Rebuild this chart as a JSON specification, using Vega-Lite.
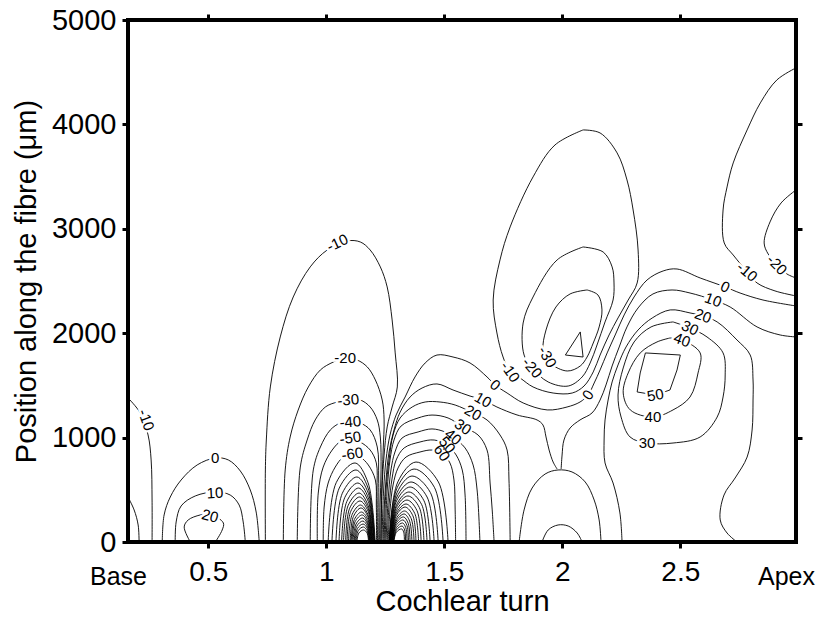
{
"$schema":"https://vega.github.io/schema/vega-lite/v6.json",
"width":668,"height":522,
"autosize":{"type":"none"},
"padding":{"left":128,"top":20,"right":21,"bottom":76},
"background":"white",
"config":{"view":{"stroke":"black","strokeWidth":4},
"axis":{"domain":false,"grid":false,"tickColor":"black","tickWidth":3,"tickSize":6,"labelFont":"Liberation Sans","labelFontSize":29,"labelColor":"black","titleFont":"Liberation Sans","titleFontSize":29,"titleFontWeight":"normal","titleColor":"black","labelFlush":false,"labelOverlap":false,"labelBound":false}},
"datasets":{
"lines":[
{"c":"l10","o":1,"x":0.16,"y":1380},{"c":"l10","o":2,"x":0.212,"y":1236},{"c":"l10","o":3,"x":0.245,"y":1025},{"c":"l10","o":4,"x":0.258,"y":786},{"c":"l10","o":5,"x":0.262,"y":402},{"c":"l10","o":6,"x":0.262,"y":0},
{"c":"l2","o":1,"x":0.16,"y":431},{"c":"l2","o":2,"x":0.186,"y":307},{"c":"l2","o":3,"x":0.203,"y":163},{"c":"l2","o":4,"x":0.207,"y":0},
{"c":"d0","o":1,"x":0.305,"y":0},{"c":"d0","o":2,"x":0.313,"y":259},{"c":"d0","o":3,"x":0.339,"y":431},{"c":"d0","o":4,"x":0.385,"y":594},{"c":"d0","o":5,"x":0.453,"y":738},{"c":"d0","o":6,"x":0.53,"y":805},{"c":"d0","o":7,"x":0.585,"y":786},{"c":"d0","o":8,"x":0.636,"y":680},{"c":"d0","o":9,"x":0.678,"y":498},{"c":"d0","o":10,"x":0.703,"y":287},{"c":"d0","o":11,"x":0.716,"y":0},
{"c":"d10","o":1,"x":0.36,"y":0},{"c":"d10","o":2,"x":0.364,"y":192},{"c":"d10","o":3,"x":0.385,"y":345},{"c":"d10","o":4,"x":0.445,"y":441},{"c":"d10","o":5,"x":0.53,"y":479},{"c":"d10","o":6,"x":0.593,"y":450},{"c":"d10","o":7,"x":0.631,"y":354},{"c":"d10","o":8,"x":0.648,"y":192},{"c":"d10","o":9,"x":0.657,"y":0},
{"c":"d20","o":1,"x":0.424,"y":0},{"c":"d20","o":2,"x":0.398,"y":144},{"c":"d20","o":3,"x":0.415,"y":211},{"c":"d20","o":4,"x":0.466,"y":259},{"c":"d20","o":5,"x":0.508,"y":268},{"c":"d20","o":6,"x":0.564,"y":182},{"c":"d20","o":7,"x":0.559,"y":115},{"c":"d20","o":8,"x":0.53,"y":0},
{"c":"a10","o":1,"x":0.742,"y":0},{"c":"a10","o":2,"x":0.742,"y":690},{"c":"a10","o":3,"x":0.746,"y":977},{"c":"a10","o":4,"x":0.763,"y":1485},{"c":"a10","o":5,"x":0.805,"y":1964},{"c":"a10","o":6,"x":0.86,"y":2347},{"c":"a10","o":7,"x":0.932,"y":2635},{"c":"a10","o":8,"x":1.004,"y":2797},{"c":"a10","o":9,"x":1.089,"y":2884},{"c":"a10","o":10,"x":1.144,"y":2874},{"c":"a10","o":11,"x":1.186,"y":2797},{"c":"a10","o":12,"x":1.229,"y":2635},{"c":"a10","o":13,"x":1.258,"y":2443},{"c":"a10","o":14,"x":1.279,"y":2127},{"c":"a10","o":15,"x":1.292,"y":1811},{"c":"a10","o":16,"x":1.301,"y":1485},{"c":"a10","o":17,"x":1.279,"y":1293},{"c":"a10","o":18,"x":1.258,"y":1102},{"c":"a10","o":19,"x":1.245,"y":833},{"c":"a10","o":20,"x":1.236,"y":498},{"c":"a10","o":21,"x":1.232,"y":0},
{"c":"a20","o":1,"x":0.818,"y":0},{"c":"a20","o":2,"x":0.826,"y":690},{"c":"a20","o":3,"x":0.847,"y":1006},{"c":"a20","o":4,"x":0.881,"y":1264},{"c":"a20","o":5,"x":0.924,"y":1485},{"c":"a20","o":6,"x":0.975,"y":1648},{"c":"a20","o":7,"x":1.03,"y":1724},{"c":"a20","o":8,"x":1.08,"y":1763},{"c":"a20","o":9,"x":1.131,"y":1743},{"c":"a20","o":10,"x":1.174,"y":1676},{"c":"a20","o":11,"x":1.208,"y":1552},{"c":"a20","o":12,"x":1.237,"y":1360},{"c":"a20","o":13,"x":1.245,"y":1169},{"c":"a20","o":14,"x":1.241,"y":881},{"c":"a20","o":15,"x":1.235,"y":498},{"c":"a20","o":16,"x":1.231,"y":0},
{"c":"a30","o":1,"x":0.877,"y":0},{"c":"a30","o":2,"x":0.89,"y":718},{"c":"a30","o":3,"x":0.919,"y":977},{"c":"a30","o":4,"x":0.953,"y":1169},{"c":"a30","o":5,"x":0.996,"y":1293},{"c":"a30","o":6,"x":1.047,"y":1341},{"c":"a30","o":7,"x":1.093,"y":1360},{"c":"a30","o":8,"x":1.144,"y":1360},{"c":"a30","o":9,"x":1.186,"y":1293},{"c":"a30","o":10,"x":1.216,"y":1169},{"c":"a30","o":11,"x":1.229,"y":1006},{"c":"a30","o":12,"x":1.232,"y":690},{"c":"a30","o":13,"x":1.228,"y":354},{"c":"a30","o":14,"x":1.226,"y":0},
{"c":"a40","o":1,"x":0.932,"y":0},{"c":"a40","o":2,"x":0.945,"y":690},{"c":"a40","o":3,"x":0.975,"y":910},{"c":"a40","o":4,"x":1.017,"y":1073},{"c":"a40","o":5,"x":1.059,"y":1140},{"c":"a40","o":6,"x":1.102,"y":1159},{"c":"a40","o":7,"x":1.144,"y":1140},{"c":"a40","o":8,"x":1.186,"y":1073},{"c":"a40","o":9,"x":1.216,"y":910},{"c":"a40","o":10,"x":1.222,"y":594},{"c":"a40","o":11,"x":1.222,"y":0},
{"c":"a50","o":1,"x":0.962,"y":0},{"c":"a50","o":2,"x":0.966,"y":469},{"c":"a50","o":3,"x":0.987,"y":718},{"c":"a50","o":4,"x":1.025,"y":881},{"c":"a50","o":5,"x":1.067,"y":977},{"c":"a50","o":6,"x":1.102,"y":996},{"c":"a50","o":7,"x":1.144,"y":958},{"c":"a50","o":8,"x":1.186,"y":881},{"c":"a50","o":9,"x":1.212,"y":757},{"c":"a50","o":10,"x":1.215,"y":498},{"c":"a50","o":11,"x":1.217,"y":0},
{"c":"a60","o":1,"x":0.987,"y":0},{"c":"a60","o":2,"x":0.991,"y":335},{"c":"a60","o":3,"x":1.008,"y":565},{"c":"a60","o":4,"x":1.038,"y":718},{"c":"a60","o":5,"x":1.072,"y":814},{"c":"a60","o":6,"x":1.11,"y":843},{"c":"a60","o":7,"x":1.144,"y":814},{"c":"a60","o":8,"x":1.178,"y":738},{"c":"a60","o":9,"x":1.208,"y":594},{"c":"a60","o":10,"x":1.212,"y":354},{"c":"a60","o":11,"x":1.213,"y":0},
{"c":"n1","o":1,"x":1.008,"y":0},{"c":"n1","o":2,"x":1.042,"y":568},{"c":"n1","o":3,"x":1.122,"y":757},{"c":"n1","o":4,"x":1.177,"y":568},{"c":"n1","o":5,"x":1.207,"y":0},
{"c":"n2","o":1,"x":1.024,"y":0},{"c":"n2","o":2,"x":1.055,"y":517},{"c":"n2","o":3,"x":1.126,"y":690},{"c":"n2","o":4,"x":1.177,"y":517},{"c":"n2","o":5,"x":1.205,"y":0},
{"c":"n3","o":1,"x":1.041,"y":0},{"c":"n3","o":2,"x":1.068,"y":467},{"c":"n3","o":3,"x":1.13,"y":623},{"c":"n3","o":4,"x":1.178,"y":467},{"c":"n3","o":5,"x":1.203,"y":0},
{"c":"n4","o":1,"x":1.054,"y":0},{"c":"n4","o":2,"x":1.078,"y":424},{"c":"n4","o":3,"x":1.134,"y":565},{"c":"n4","o":4,"x":1.178,"y":424},{"c":"n4","o":5,"x":1.202,"y":0},
{"c":"n5","o":1,"x":1.065,"y":0},{"c":"n5","o":2,"x":1.087,"y":388},{"c":"n5","o":3,"x":1.137,"y":517},{"c":"n5","o":4,"x":1.178,"y":388},{"c":"n5","o":5,"x":1.2,"y":0},
{"c":"n6","o":1,"x":1.073,"y":0},{"c":"n6","o":2,"x":1.093,"y":352},{"c":"n6","o":3,"x":1.139,"y":469},{"c":"n6","o":4,"x":1.177,"y":352},{"c":"n6","o":5,"x":1.198,"y":0},
{"c":"n7","o":1,"x":1.082,"y":0},{"c":"n7","o":2,"x":1.099,"y":323},{"c":"n7","o":3,"x":1.141,"y":431},{"c":"n7","o":4,"x":1.177,"y":323},{"c":"n7","o":5,"x":1.196,"y":0},
{"c":"n8","o":1,"x":1.088,"y":0},{"c":"n8","o":2,"x":1.104,"y":295},{"c":"n8","o":3,"x":1.143,"y":393},{"c":"n8","o":4,"x":1.177,"y":295},{"c":"n8","o":5,"x":1.195,"y":0},
{"c":"n9","o":1,"x":1.094,"y":0},{"c":"n9","o":2,"x":1.11,"y":266},{"c":"n9","o":3,"x":1.145,"y":354},{"c":"n9","o":4,"x":1.176,"y":266},{"c":"n9","o":5,"x":1.193,"y":0},
{"c":"n10","o":1,"x":1.101,"y":0},{"c":"n10","o":2,"x":1.115,"y":244},{"c":"n10","o":3,"x":1.147,"y":326},{"c":"n10","o":4,"x":1.176,"y":244},{"c":"n10","o":5,"x":1.191,"y":0},
{"c":"n11","o":1,"x":1.105,"y":0},{"c":"n11","o":2,"x":1.119,"y":216},{"c":"n11","o":3,"x":1.149,"y":287},{"c":"n11","o":4,"x":1.176,"y":216},{"c":"n11","o":5,"x":1.19,"y":0},
{"c":"n12","o":1,"x":1.109,"y":0},{"c":"n12","o":2,"x":1.122,"y":194},{"c":"n12","o":3,"x":1.152,"y":259},{"c":"n12","o":4,"x":1.175,"y":194},{"c":"n12","o":5,"x":1.188,"y":0},
{"c":"n13","o":1,"x":1.113,"y":0},{"c":"n13","o":2,"x":1.126,"y":172},{"c":"n13","o":3,"x":1.154,"y":230},{"c":"n13","o":4,"x":1.175,"y":172},{"c":"n13","o":5,"x":1.186,"y":0},
{"c":"n14","o":1,"x":1.118,"y":0},{"c":"n14","o":2,"x":1.129,"y":151},{"c":"n14","o":3,"x":1.155,"y":201},{"c":"n14","o":4,"x":1.174,"y":151},{"c":"n14","o":5,"x":1.185,"y":0},
{"c":"n15","o":1,"x":1.122,"y":0},{"c":"n15","o":2,"x":1.132,"y":129},{"c":"n15","o":3,"x":1.156,"y":172},{"c":"n15","o":4,"x":1.174,"y":129},{"c":"n15","o":5,"x":1.183,"y":0},
{"c":"n16","o":1,"x":1.126,"y":0},{"c":"n16","o":2,"x":1.135,"y":108},{"c":"n16","o":3,"x":1.157,"y":144},{"c":"n16","o":4,"x":1.173,"y":108},{"c":"n16","o":5,"x":1.181,"y":0},
{"c":"n17","o":1,"x":1.13,"y":0},{"c":"n17","o":2,"x":1.138,"y":86},{"c":"n17","o":3,"x":1.158,"y":115},{"c":"n17","o":4,"x":1.173,"y":86},{"c":"n17","o":5,"x":1.179,"y":0},
{"c":"p1","o":1,"x":1.266,"y":0},{"c":"p1","o":2,"x":1.303,"y":575},{"c":"p1","o":3,"x":1.38,"y":766},{"c":"p1","o":4,"x":1.475,"y":575},{"c":"p1","o":5,"x":1.516,"y":0},
{"c":"p2","o":1,"x":1.267,"y":0},{"c":"p2","o":2,"x":1.301,"y":524},{"c":"p2","o":3,"x":1.372,"y":699},{"c":"p2","o":4,"x":1.458,"y":524},{"c":"p2","o":5,"x":1.495,"y":0},
{"c":"p3","o":1,"x":1.268,"y":0},{"c":"p3","o":2,"x":1.3,"y":474},{"c":"p3","o":3,"x":1.363,"y":632},{"c":"p3","o":4,"x":1.441,"y":474},{"c":"p3","o":5,"x":1.474,"y":0},
{"c":"p4","o":1,"x":1.27,"y":0},{"c":"p4","o":2,"x":1.299,"y":431},{"c":"p4","o":3,"x":1.359,"y":575},{"c":"p4","o":4,"x":1.427,"y":431},{"c":"p4","o":5,"x":1.457,"y":0},
{"c":"p5","o":1,"x":1.271,"y":0},{"c":"p5","o":2,"x":1.298,"y":395},{"c":"p5","o":3,"x":1.355,"y":527},{"c":"p5","o":4,"x":1.414,"y":395},{"c":"p5","o":5,"x":1.44,"y":0},
{"c":"p6","o":1,"x":1.272,"y":0},{"c":"p6","o":2,"x":1.298,"y":359},{"c":"p6","o":3,"x":1.35,"y":479},{"c":"p6","o":4,"x":1.404,"y":359},{"c":"p6","o":5,"x":1.427,"y":0},
{"c":"p7","o":1,"x":1.274,"y":0},{"c":"p7","o":2,"x":1.297,"y":331},{"c":"p7","o":3,"x":1.346,"y":441},{"c":"p7","o":4,"x":1.394,"y":331},{"c":"p7","o":5,"x":1.414,"y":0},
{"c":"p8","o":1,"x":1.275,"y":0},{"c":"p8","o":2,"x":1.297,"y":302},{"c":"p8","o":3,"x":1.342,"y":402},{"c":"p8","o":4,"x":1.384,"y":302},{"c":"p8","o":5,"x":1.402,"y":0},
{"c":"p9","o":1,"x":1.276,"y":0},{"c":"p9","o":2,"x":1.296,"y":273},{"c":"p9","o":3,"x":1.338,"y":364},{"c":"p9","o":4,"x":1.375,"y":273},{"c":"p9","o":5,"x":1.391,"y":0},
{"c":"p10","o":1,"x":1.277,"y":0},{"c":"p10","o":2,"x":1.296,"y":251},{"c":"p10","o":3,"x":1.334,"y":335},{"c":"p10","o":4,"x":1.367,"y":251},{"c":"p10","o":5,"x":1.38,"y":0},
{"c":"p11","o":1,"x":1.279,"y":0},{"c":"p11","o":2,"x":1.296,"y":223},{"c":"p11","o":3,"x":1.332,"y":297},{"c":"p11","o":4,"x":1.36,"y":223},{"c":"p11","o":5,"x":1.372,"y":0},
{"c":"p12","o":1,"x":1.28,"y":0},{"c":"p12","o":2,"x":1.296,"y":201},{"c":"p12","o":3,"x":1.33,"y":268},{"c":"p12","o":4,"x":1.353,"y":201},{"c":"p12","o":5,"x":1.363,"y":0},
{"c":"p13","o":1,"x":1.281,"y":0},{"c":"p13","o":2,"x":1.296,"y":180},{"c":"p13","o":3,"x":1.327,"y":240},{"c":"p13","o":4,"x":1.347,"y":180},{"c":"p13","o":5,"x":1.355,"y":0},
{"c":"p14","o":1,"x":1.282,"y":0},{"c":"p14","o":2,"x":1.296,"y":158},{"c":"p14","o":3,"x":1.325,"y":211},{"c":"p14","o":4,"x":1.342,"y":158},{"c":"p14","o":5,"x":1.348,"y":0},
{"c":"p15","o":1,"x":1.284,"y":0},{"c":"p15","o":2,"x":1.297,"y":137},{"c":"p15","o":3,"x":1.323,"y":182},{"c":"p15","o":4,"x":1.337,"y":137},{"c":"p15","o":5,"x":1.342,"y":0},
{"c":"p16","o":1,"x":1.285,"y":0},{"c":"p16","o":2,"x":1.297,"y":115},{"c":"p16","o":3,"x":1.321,"y":153},{"c":"p16","o":4,"x":1.332,"y":115},{"c":"p16","o":5,"x":1.336,"y":0},
{"c":"p17","o":1,"x":1.286,"y":0},{"c":"p17","o":2,"x":1.297,"y":94},{"c":"p17","o":3,"x":1.319,"y":125},{"c":"p17","o":4,"x":1.328,"y":94},{"c":"p17","o":5,"x":1.331,"y":0},
{"c":"b60","o":1,"x":1.262,"y":0},{"c":"b60","o":2,"x":1.27,"y":307},{"c":"b60","o":3,"x":1.283,"y":546},{"c":"b60","o":4,"x":1.304,"y":709},{"c":"b60","o":5,"x":1.338,"y":814},{"c":"b60","o":6,"x":1.397,"y":862},{"c":"b60","o":7,"x":1.448,"y":881},{"c":"b60","o":8,"x":1.49,"y":853},{"c":"b60","o":9,"x":1.524,"y":757},{"c":"b60","o":10,"x":1.541,"y":594},{"c":"b60","o":11,"x":1.546,"y":307},{"c":"b60","o":12,"x":1.548,"y":0},
{"c":"b50","o":1,"x":1.258,"y":0},{"c":"b50","o":2,"x":1.266,"y":354},{"c":"b50","o":3,"x":1.279,"y":613},{"c":"b50","o":4,"x":1.296,"y":785},{"c":"b50","o":5,"x":1.33,"y":901},{"c":"b50","o":6,"x":1.397,"y":958},{"c":"b50","o":7,"x":1.457,"y":977},{"c":"b50","o":8,"x":1.512,"y":929},{"c":"b50","o":9,"x":1.55,"y":834},{"c":"b50","o":10,"x":1.576,"y":690},{"c":"b50","o":11,"x":1.588,"y":450},{"c":"b50","o":12,"x":1.592,"y":0},
{"c":"b40","o":1,"x":1.253,"y":0},{"c":"b40","o":2,"x":1.262,"y":402},{"c":"b40","o":3,"x":1.274,"y":690},{"c":"b40","o":4,"x":1.291,"y":862},{"c":"b40","o":5,"x":1.321,"y":996},{"c":"b40","o":6,"x":1.389,"y":1054},{"c":"b40","o":7,"x":1.448,"y":1083},{"c":"b40","o":8,"x":1.503,"y":1054},{"c":"b40","o":9,"x":1.537,"y":1006},{"c":"b40","o":10,"x":1.588,"y":901},{"c":"b40","o":11,"x":1.622,"y":738},{"c":"b40","o":12,"x":1.639,"y":498},{"c":"b40","o":13,"x":1.651,"y":0},
{"c":"b30","o":1,"x":1.249,"y":0},{"c":"b30","o":2,"x":1.258,"y":498},{"c":"b30","o":3,"x":1.27,"y":786},{"c":"b30","o":4,"x":1.287,"y":977},{"c":"b30","o":5,"x":1.317,"y":1111},{"c":"b30","o":6,"x":1.389,"y":1188},{"c":"b30","o":7,"x":1.448,"y":1216},{"c":"b30","o":8,"x":1.516,"y":1188},{"c":"b30","o":9,"x":1.579,"y":1102},{"c":"b30","o":10,"x":1.643,"y":1025},{"c":"b30","o":11,"x":1.681,"y":881},{"c":"b30","o":12,"x":1.694,"y":565},{"c":"b30","o":13,"x":1.703,"y":307},{"c":"b30","o":14,"x":1.711,"y":0},
{"c":"b20","o":1,"x":1.245,"y":0},{"c":"b20","o":2,"x":1.253,"y":498},{"c":"b20","o":3,"x":1.266,"y":786},{"c":"b20","o":4,"x":1.283,"y":1025},{"c":"b20","o":5,"x":1.313,"y":1188},{"c":"b20","o":6,"x":1.364,"y":1293},{"c":"b20","o":7,"x":1.419,"y":1341},{"c":"b20","o":8,"x":1.482,"y":1341},{"c":"b20","o":9,"x":1.546,"y":1312},{"c":"b20","o":10,"x":1.622,"y":1236},{"c":"b20","o":11,"x":1.681,"y":1169},{"c":"b20","o":12,"x":1.736,"y":1025},{"c":"b20","o":13,"x":1.766,"y":881},{"c":"b20","o":14,"x":1.774,"y":594},{"c":"b20","o":15,"x":1.779,"y":0},
{"c":"b10","o":1,"x":1.241,"y":0},{"c":"b10","o":2,"x":1.245,"y":307},{"c":"b10","o":3,"x":1.253,"y":594},{"c":"b10","o":4,"x":1.266,"y":862},{"c":"b10","o":5,"x":1.287,"y":1073},{"c":"b10","o":6,"x":1.313,"y":1245},{"c":"b10","o":7,"x":1.355,"y":1389},{"c":"b10","o":8,"x":1.406,"y":1475},{"c":"b10","o":9,"x":1.469,"y":1514},{"c":"b10","o":10,"x":1.537,"y":1456},{"c":"b10","o":11,"x":1.609,"y":1398},{"c":"b10","o":12,"x":1.664,"y":1360},{"c":"b10","o":13,"x":1.723,"y":1293},{"c":"b10","o":14,"x":1.808,"y":1217},{"c":"b10","o":15,"x":1.893,"y":1169},{"c":"b10","o":16,"x":1.918,"y":1121},{"c":"b10","o":17,"x":1.931,"y":1006},{"c":"b10","o":18,"x":1.944,"y":881},{"c":"b10","o":19,"x":1.961,"y":766},{"c":"b10","o":20,"x":1.978,"y":699},
{"c":"z0","o":1,"x":1.236,"y":0},{"c":"z0","o":2,"x":1.243,"y":498},{"c":"z0","o":3,"x":1.253,"y":786},{"c":"z0","o":4,"x":1.27,"y":1025},{"c":"z0","o":5,"x":1.296,"y":1217},{"c":"z0","o":6,"x":1.334,"y":1389},{"c":"z0","o":7,"x":1.376,"y":1581},{"c":"z0","o":8,"x":1.419,"y":1715},{"c":"z0","o":9,"x":1.469,"y":1791},{"c":"z0","o":10,"x":1.537,"y":1772},{"c":"z0","o":11,"x":1.609,"y":1715},{"c":"z0","o":12,"x":1.681,"y":1581},{"c":"z0","o":13,"x":1.715,"y":1504},{"c":"z0","o":14,"x":1.766,"y":1427},{"c":"z0","o":15,"x":1.834,"y":1332},{"c":"z0","o":16,"x":1.936,"y":1265},{"c":"z0","o":17,"x":2.02,"y":1293},{"c":"z0","o":18,"x":2.075,"y":1341},{"c":"z0","o":19,"x":2.109,"y":1408},{"c":"z0","o":20,"x":2.135,"y":1523},{"c":"z0","o":21,"x":2.16,"y":1648},{"c":"z0","o":22,"x":2.19,"y":1811},{"c":"z0","o":23,"x":2.224,"y":1983},{"c":"z0","o":24,"x":2.262,"y":2175},{"c":"z0","o":25,"x":2.304,"y":2347},{"c":"z0","o":26,"x":2.359,"y":2510},{"c":"z0","o":27,"x":2.427,"y":2596},{"c":"z0","o":28,"x":2.486,"y":2615},{"c":"z0","o":29,"x":2.584,"y":2529},{"c":"z0","o":30,"x":2.69,"y":2443},{"c":"z0","o":31,"x":2.753,"y":2385},{"c":"z0","o":32,"x":2.85,"y":2318},{"c":"z0","o":33,"x":2.99,"y":2261},
{"c":"t10","o":1,"x":1.995,"y":699},{"c":"t10","o":2,"x":1.999,"y":833},{"c":"t10","o":3,"x":2.007,"y":977},{"c":"t10","o":4,"x":2.033,"y":1092},{"c":"t10","o":5,"x":2.075,"y":1169},{"c":"t10","o":6,"x":2.126,"y":1236},{"c":"t10","o":7,"x":2.16,"y":1360},{"c":"t10","o":8,"x":2.185,"y":1504},{"c":"t10","o":9,"x":2.211,"y":1686},{"c":"t10","o":10,"x":2.241,"y":1868},{"c":"t10","o":11,"x":2.274,"y":2060},{"c":"t10","o":12,"x":2.321,"y":2242},{"c":"t10","o":13,"x":2.384,"y":2376},{"c":"t10","o":14,"x":2.465,"y":2414},{"c":"t10","o":15,"x":2.541,"y":2385},{"c":"t10","o":16,"x":2.639,"y":2318},{"c":"t10","o":17,"x":2.711,"y":2251},{"c":"t10","o":18,"x":2.825,"y":2060},{"c":"t10","o":19,"x":2.923,"y":1983},{"c":"t10","o":20,"x":2.99,"y":1964},
{"c":"dm","o":1,"x":1.817,"y":0},{"c":"dm","o":2,"x":1.838,"y":307},{"c":"dm","o":3,"x":1.872,"y":517},{"c":"dm","o":4,"x":1.927,"y":651},{"c":"dm","o":5,"x":1.982,"y":690},{"c":"dm","o":6,"x":2.041,"y":671},{"c":"dm","o":7,"x":2.097,"y":575},{"c":"dm","o":8,"x":2.135,"y":402},{"c":"dm","o":9,"x":2.156,"y":211},{"c":"dm","o":10,"x":2.164,"y":0},
{"c":"ds","o":1,"x":1.914,"y":0},{"c":"ds","o":2,"x":1.94,"y":115},{"c":"ds","o":3,"x":1.982,"y":163},{"c":"ds","o":4,"x":2.025,"y":153},{"c":"ds","o":5,"x":2.063,"y":86},{"c":"ds","o":6,"x":2.084,"y":0},
{"c":"t20","o":1,"x":2.253,"y":0},{"c":"t20","o":2,"x":2.244,"y":278},{"c":"t20","o":3,"x":2.215,"y":565},{"c":"t20","o":4,"x":2.181,"y":757},{"c":"t20","o":5,"x":2.177,"y":977},{"c":"t20","o":6,"x":2.181,"y":1169},{"c":"t20","o":7,"x":2.194,"y":1360},{"c":"t20","o":8,"x":2.211,"y":1533},{"c":"t20","o":9,"x":2.236,"y":1696},{"c":"t20","o":10,"x":2.27,"y":1868},{"c":"t20","o":11,"x":2.321,"y":2031},{"c":"t20","o":12,"x":2.381,"y":2146},{"c":"t20","o":13,"x":2.457,"y":2223},{"c":"t20","o":14,"x":2.541,"y":2194},{"c":"t20","o":15,"x":2.596,"y":2165},{"c":"t20","o":16,"x":2.656,"y":2108},{"c":"t20","o":17,"x":2.74,"y":1935},{"c":"t20","o":18,"x":2.796,"y":1791},{"c":"t20","o":19,"x":2.808,"y":1552},{"c":"t20","o":20,"x":2.808,"y":1360},{"c":"t20","o":21,"x":2.804,"y":1073},{"c":"t20","o":22,"x":2.783,"y":814},{"c":"t20","o":23,"x":2.732,"y":613},{"c":"t20","o":24,"x":2.685,"y":450},{"c":"t20","o":25,"x":2.669,"y":211},{"c":"t20","o":26,"x":2.698,"y":86},{"c":"t20","o":27,"x":2.74,"y":0},
{"c":"t30","o":1,"x":2.469,"y":2108},{"c":"t30","o":2,"x":2.541,"y":2050},{"c":"t30","o":3,"x":2.613,"y":1964},{"c":"t30","o":4,"x":2.681,"y":1811},{"c":"t30","o":5,"x":2.69,"y":1600},{"c":"t30","o":6,"x":2.681,"y":1389},{"c":"t30","o":7,"x":2.656,"y":1197},{"c":"t30","o":8,"x":2.584,"y":1006},{"c":"t30","o":9,"x":2.469,"y":948},{"c":"t30","o":10,"x":2.359,"y":948},{"c":"t30","o":11,"x":2.287,"y":1006},{"c":"t30","o":12,"x":2.249,"y":1197},{"c":"t30","o":13,"x":2.236,"y":1408},{"c":"t30","o":14,"x":2.258,"y":1667},{"c":"t30","o":15,"x":2.304,"y":1916},{"c":"t30","o":16,"x":2.376,"y":2060},{"c":"t30","o":17,"x":2.469,"y":2108},
{"c":"t40","o":1,"x":2.456,"y":1954},{"c":"t40","o":2,"x":2.507,"y":1935},{"c":"t40","o":3,"x":2.584,"y":1811},{"c":"t40","o":4,"x":2.575,"y":1619},{"c":"t40","o":5,"x":2.541,"y":1389},{"c":"t40","o":6,"x":2.469,"y":1265},{"c":"t40","o":7,"x":2.384,"y":1197},{"c":"t40","o":8,"x":2.288,"y":1265},{"c":"t40","o":9,"x":2.258,"y":1427},{"c":"t40","o":10,"x":2.279,"y":1619},{"c":"t40","o":11,"x":2.33,"y":1811},{"c":"t40","o":12,"x":2.401,"y":1916},{"c":"t40","o":13,"x":2.456,"y":1954},
{"c":"t50","o":1,"x":2.352,"y":1811},{"c":"t50","o":2,"x":2.5,"y":1791},{"c":"t50","o":3,"x":2.486,"y":1648},{"c":"t50","o":4,"x":2.456,"y":1456},{"c":"t50","o":5,"x":2.394,"y":1408},{"c":"t50","o":6,"x":2.317,"y":1437},{"c":"t50","o":7,"x":2.33,"y":1619},{"c":"t50","o":8,"x":2.352,"y":1811},
{"c":"m10","o":1,"x":2.088,"y":3947},{"c":"m10","o":2,"x":2.16,"y":3918},{"c":"m10","o":3,"x":2.232,"y":3727},{"c":"m10","o":4,"x":2.274,"y":3468},{"c":"m10","o":5,"x":2.3,"y":3180},{"c":"m10","o":6,"x":2.321,"y":2797},{"c":"m10","o":7,"x":2.317,"y":2481},{"c":"m10","o":8,"x":2.279,"y":2318},{"c":"m10","o":9,"x":2.236,"y":2146},{"c":"m10","o":10,"x":2.198,"y":1983},{"c":"m10","o":11,"x":2.16,"y":1791},{"c":"m10","o":12,"x":2.131,"y":1629},{"c":"m10","o":13,"x":2.092,"y":1494},{"c":"m10","o":14,"x":2.042,"y":1427},{"c":"m10","o":15,"x":1.961,"y":1427},{"c":"m10","o":16,"x":1.876,"y":1485},{"c":"m10","o":17,"x":1.821,"y":1571},{"c":"m10","o":18,"x":1.779,"y":1629},{"c":"m10","o":19,"x":1.749,"y":1772},{"c":"m10","o":20,"x":1.723,"y":2002},{"c":"m10","o":21,"x":1.707,"y":2318},{"c":"m10","o":22,"x":1.736,"y":2702},{"c":"m10","o":23,"x":1.779,"y":3018},{"c":"m10","o":24,"x":1.876,"y":3497},{"c":"m10","o":25,"x":1.969,"y":3803},{"c":"m10","o":26,"x":2.088,"y":3947},
{"c":"m20","o":1,"x":2.088,"y":2826},{"c":"m20","o":2,"x":2.173,"y":2778},{"c":"m20","o":3,"x":2.211,"y":2635},{"c":"m20","o":4,"x":2.219,"y":2481},{"c":"m20","o":5,"x":2.215,"y":2318},{"c":"m20","o":6,"x":2.181,"y":2108},{"c":"m20","o":7,"x":2.147,"y":1887},{"c":"m20","o":8,"x":2.118,"y":1715},{"c":"m20","o":9,"x":2.084,"y":1581},{"c":"m20","o":10,"x":2.025,"y":1494},{"c":"m20","o":11,"x":1.94,"y":1533},{"c":"m20","o":12,"x":1.872,"y":1667},{"c":"m20","o":13,"x":1.838,"y":1791},{"c":"m20","o":14,"x":1.834,"y":2098},{"c":"m20","o":15,"x":1.876,"y":2347},{"c":"m20","o":16,"x":1.978,"y":2702},{"c":"m20","o":17,"x":2.088,"y":2826},
{"c":"m30","o":1,"x":2.105,"y":2414},{"c":"m30","o":2,"x":2.151,"y":2366},{"c":"m30","o":3,"x":2.168,"y":2223},{"c":"m30","o":4,"x":2.156,"y":2060},{"c":"m30","o":5,"x":2.131,"y":1906},{"c":"m30","o":6,"x":2.105,"y":1772},{"c":"m30","o":7,"x":2.076,"y":1686},{"c":"m30","o":8,"x":2.021,"y":1638},{"c":"m30","o":9,"x":1.948,"y":1715},{"c":"m30","o":10,"x":1.919,"y":1839},{"c":"m30","o":11,"x":1.931,"y":2031},{"c":"m30","o":12,"x":1.973,"y":2251},{"c":"m30","o":13,"x":2.033,"y":2376},{"c":"m30","o":14,"x":2.105,"y":2414},
{"c":"m40","o":1,"x":2.076,"y":2012},{"c":"m40","o":2,"x":2.088,"y":1772},{"c":"m40","o":3,"x":2.013,"y":1791},{"c":"m40","o":4,"x":2.076,"y":2012},
{"c":"x10","o":1,"x":2.99,"y":4541},{"c":"x10","o":2,"x":2.909,"y":4426},{"c":"x10","o":3,"x":2.839,"y":4206},{"c":"x10","o":4,"x":2.783,"y":3947},{"c":"x10","o":5,"x":2.724,"y":3631},{"c":"x10","o":6,"x":2.698,"y":3401},{"c":"x10","o":7,"x":2.681,"y":3180},{"c":"x10","o":8,"x":2.686,"y":2864},{"c":"x10","o":9,"x":2.724,"y":2749},{"c":"x10","o":10,"x":2.783,"y":2587},{"c":"x10","o":11,"x":2.825,"y":2481},{"c":"x10","o":12,"x":2.901,"y":2405},{"c":"x10","o":13,"x":2.99,"y":2357},
{"c":"x20","o":1,"x":2.99,"y":3372},{"c":"x20","o":2,"x":2.927,"y":3248},{"c":"x20","o":3,"x":2.88,"y":3066},{"c":"x20","o":4,"x":2.855,"y":2864},{"c":"x20","o":5,"x":2.872,"y":2759},{"c":"x20","o":6,"x":2.909,"y":2654},{"c":"x20","o":7,"x":2.952,"y":2567},{"c":"x20","o":8,"x":2.99,"y":2529}
],
"labels":[
{"t":"-10","x":0.237,"y":1169,"a":70},
{"t":"0","x":0.529,"y":805,"a":0},
{"t":"10","x":0.529,"y":469,"a":-3},
{"t":"20","x":0.508,"y":249,"a":15},
{"t":"-10","x":1.047,"y":2865,"a":-25},
{"t":"-20","x":1.08,"y":1763,"a":0},
{"t":"-30","x":1.093,"y":1360,"a":-5},
{"t":"-40","x":1.102,"y":1150,"a":-5},
{"t":"-50","x":1.102,"y":996,"a":-8},
{"t":"-60","x":1.11,"y":843,"a":-8},
{"t":"0","x":1.715,"y":1504,"a":40},
{"t":"10","x":1.664,"y":1360,"a":30},
{"t":"20","x":1.622,"y":1236,"a":30},
{"t":"30","x":1.579,"y":1102,"a":35},
{"t":"40","x":1.537,"y":1006,"a":40},
{"t":"50","x":1.512,"y":929,"a":50},
{"t":"60","x":1.49,"y":853,"a":55},
{"t":"-10","x":1.779,"y":1629,"a":55},
{"t":"-20","x":1.872,"y":1667,"a":50},
{"t":"-30","x":1.936,"y":1772,"a":60},
{"t":"0","x":2.109,"y":1408,"a":-55},
{"t":"0","x":2.69,"y":2443,"a":25},
{"t":"10","x":2.639,"y":2318,"a":20},
{"t":"20","x":2.596,"y":2165,"a":20},
{"t":"30","x":2.541,"y":2050,"a":25},
{"t":"40","x":2.507,"y":1935,"a":20},
{"t":"50","x":2.394,"y":1408,"a":-10},
{"t":"40","x":2.384,"y":1197,"a":0},
{"t":"30","x":2.359,"y":948,"a":0},
{"t":"-10","x":2.783,"y":2587,"a":40},
{"t":"-20","x":2.909,"y":2654,"a":45}
]},
"layer":[
{"data":{"name":"lines"},
 "transform":[{"filter":{"not":{"field":"c","oneOf":["m40","t50"]}}}],
 "mark":{"type":"line","interpolate":"catmull-rom","color":"black","strokeWidth":0.9,"clip":true},
 "encoding":{
  "x":{"field":"x","type":"quantitative","scale":{"domain":[0.16,2.99],"nice":false,"zero":false},
   "axis":{"orient":"bottom","values":[0.16,0.5,1,1.5,2,2.5,2.99],"labelExpr":"datum.value < 0.3 ? 'Base' : (datum.value > 2.9 ? 'Apex' : '' + datum.value)",
    "tickOpacity":{"condition":{"test":"datum.value < 0.3 || datum.value > 2.9","value":0},"value":1},
    "labelFontSize":{"condition":{"test":"datum.value < 0.3 || datum.value > 2.9","value":25},"value":28},
    "labelPadding":{"condition":{"test":"datum.value < 0.3 || datum.value > 2.9","value":16},"value":10},
    "labelOffset":{"condition":{"test":"datum.value < 0.3 || datum.value > 2.9","value":-10},"value":0},
    "title":"Cochlear turn","titlePadding":-2}},
  "y":{"field":"y","type":"quantitative","scale":{"domain":[0,5000],"nice":false,"zero":false},
   "axis":{"orient":"left","values":[0,1000,2000,3000,4000,5000],"format":"d","labelPadding":6,"title":"Position along the fibre (μm)","titlePadding":10}},
  "detail":{"field":"c"},
  "order":{"field":"o","type":"quantitative"}}},
{"data":{"name":"lines"},
 "transform":[{"filter":{"field":"c","oneOf":["m40","t50"]}}],
 "mark":{"type":"line","color":"black","strokeWidth":0.9,"clip":true},
 "encoding":{
  "x":{"field":"x","type":"quantitative","scale":{"domain":[0.16,2.99],"nice":false,"zero":false},"axis":null},
  "y":{"field":"y","type":"quantitative","scale":{"domain":[0,5000],"nice":false,"zero":false},"axis":null},
  "detail":{"field":"c"},
  "order":{"field":"o","type":"quantitative"}}},
{"data":{"name":"labels"},
 "mark":{"type":"text","font":"Liberation Sans","fontSize":15,"fill":"white","stroke":"white","strokeWidth":5,"align":"center","baseline":"middle"},
 "encoding":{
  "x":{"field":"x","type":"quantitative","scale":{"domain":[0.16,2.99],"nice":false,"zero":false},
   "axis":{"orient":"top","values":[0.5,1,1.5,2,2.5],"labels":false,"title":null}},
  "y":{"field":"y","type":"quantitative","scale":{"domain":[0,5000],"nice":false,"zero":false},
   "axis":{"orient":"right","values":[1000,2000,3000,4000],"labels":false,"title":null}},
  "text":{"field":"t"},
  "angle":{"field":"a","type":"quantitative","scale":null}}},
{"data":{"name":"labels"},
 "mark":{"type":"text","font":"Liberation Sans","fontSize":15,"fill":"black","align":"center","baseline":"middle"},
 "encoding":{
  "x":{"field":"x","type":"quantitative","scale":{"domain":[0.16,2.99],"nice":false,"zero":false},"axis":null},
  "y":{"field":"y","type":"quantitative","scale":{"domain":[0,5000],"nice":false,"zero":false},"axis":null},
  "text":{"field":"t"},
  "angle":{"field":"a","type":"quantitative","scale":null}}}
],
"resolve":{"axis":{"x":"independent","y":"independent"}}
}
